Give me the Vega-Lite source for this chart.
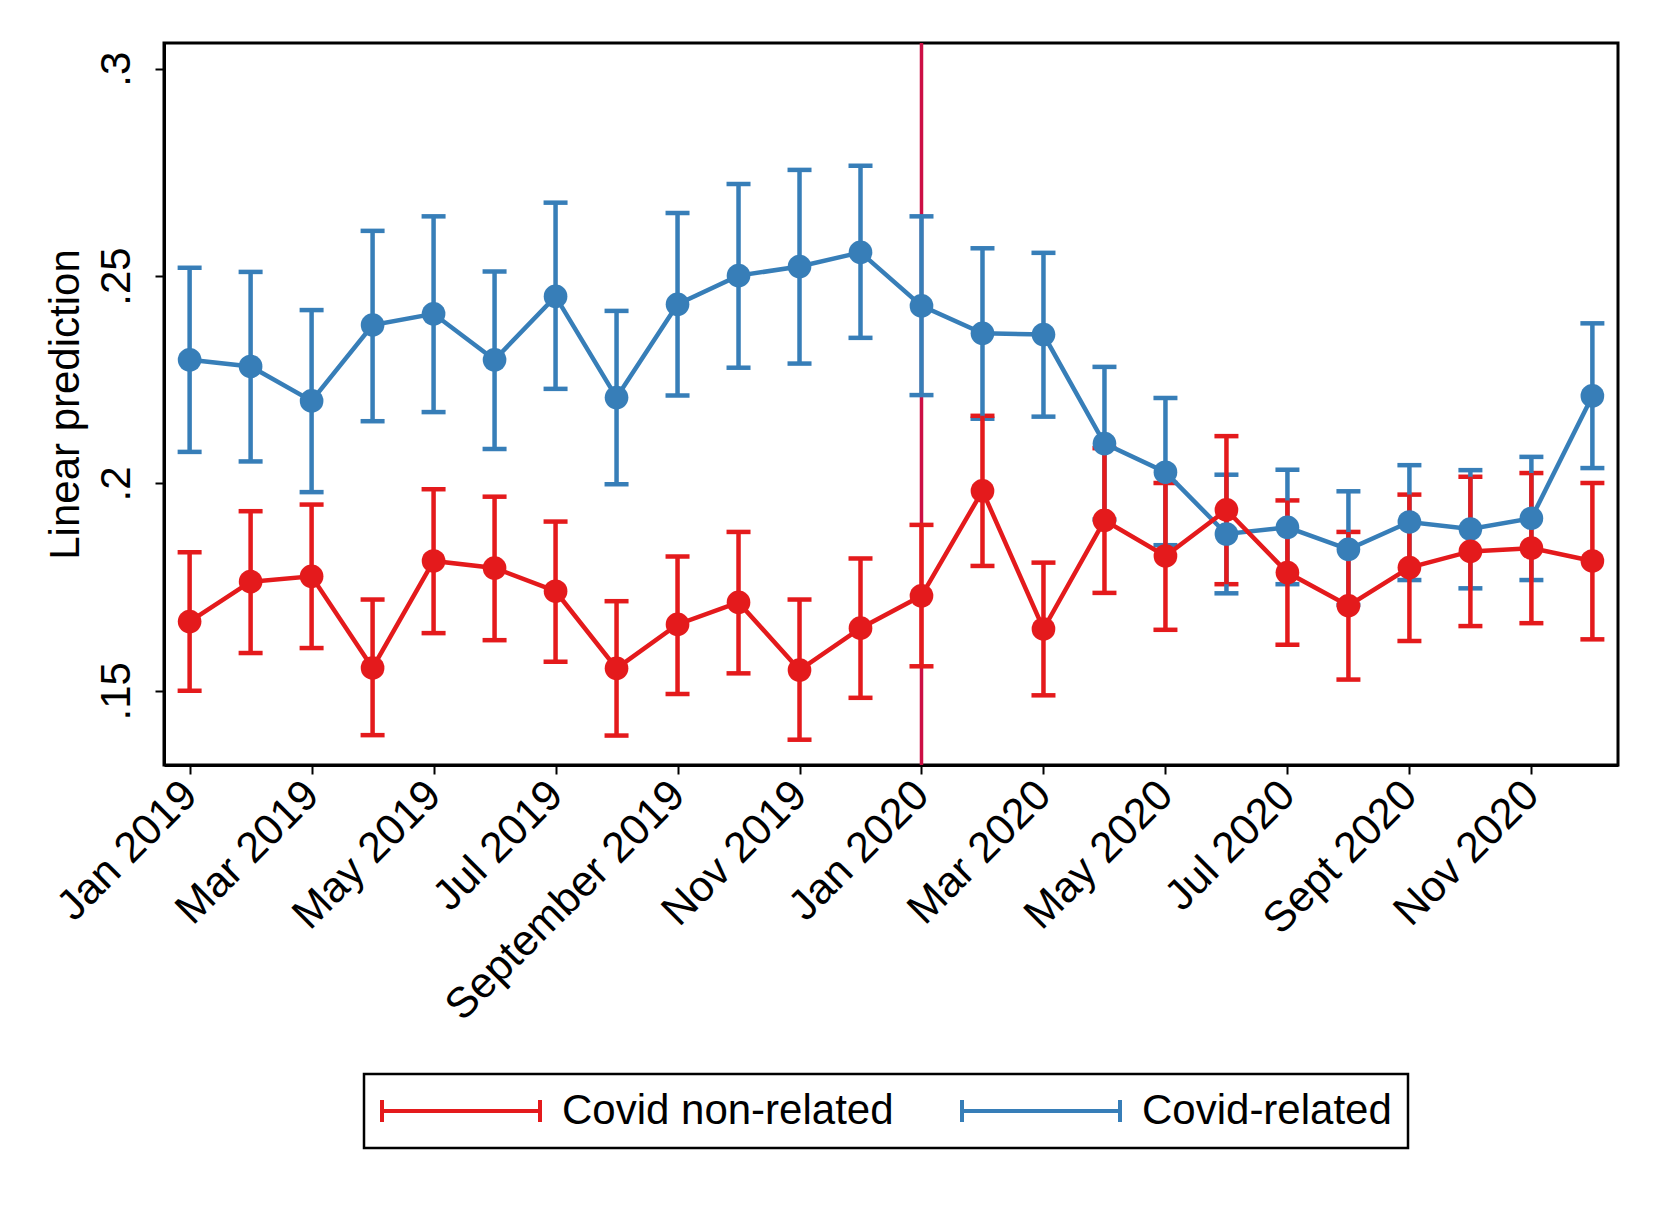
{
  "$schema": "https://vega.github.io/schema/vega-lite/v6.json",
  "width": 1454,
  "height": 722,
  "autosize": {"type": "none"},
  "padding": {"left": 164, "top": 43, "right": 43, "bottom": 443},
  "background": "white",
  "config": {
    "font": "Liberation Sans",
    "view": {"stroke": "black", "strokeWidth": 3},
    "axis": {"labelColor": "black", "titleColor": "black", "tickColor": "black", "domainColor": "black", "grid": false},
    "legend": {"strokeWidth": 2.5}
  },
  "data": {
    "values": [
      {"series": "Covid-related", "month": "Jan 2019", "y": 0.2298, "lo": 0.2076, "hi": 0.2520},
      {"series": "Covid-related", "month": "Feb 2019", "y": 0.2282, "lo": 0.2053, "hi": 0.2510},
      {"series": "Covid-related", "month": "Mar 2019", "y": 0.2199, "lo": 0.1979, "hi": 0.2418},
      {"series": "Covid-related", "month": "Apr 2019", "y": 0.2382, "lo": 0.2150, "hi": 0.2609},
      {"series": "Covid-related", "month": "May 2019", "y": 0.2409, "lo": 0.2172, "hi": 0.2644},
      {"series": "Covid-related", "month": "Jun 2019", "y": 0.2298, "lo": 0.2083, "hi": 0.2511},
      {"series": "Covid-related", "month": "Jul 2019", "y": 0.2451, "lo": 0.2228, "hi": 0.2677},
      {"series": "Covid-related", "month": "Aug 2019", "y": 0.2207, "lo": 0.1998, "hi": 0.2416},
      {"series": "Covid-related", "month": "September 2019", "y": 0.2432, "lo": 0.2212, "hi": 0.2652},
      {"series": "Covid-related", "month": "Oct 2019", "y": 0.2501, "lo": 0.2279, "hi": 0.2722},
      {"series": "Covid-related", "month": "Nov 2019", "y": 0.2523, "lo": 0.2289, "hi": 0.2756},
      {"series": "Covid-related", "month": "Dec 2019", "y": 0.2557, "lo": 0.2351, "hi": 0.2766},
      {"series": "Covid-related", "month": "Jan 2020", "y": 0.2428, "lo": 0.2213, "hi": 0.2644},
      {"series": "Covid-related", "month": "Feb 2020", "y": 0.2362, "lo": 0.2156, "hi": 0.2567},
      {"series": "Covid-related", "month": "Mar 2020", "y": 0.2359, "lo": 0.2161, "hi": 0.2556},
      {"series": "Covid-related", "month": "Apr 2020", "y": 0.2096, "lo": 0.1913, "hi": 0.2281},
      {"series": "Covid-related", "month": "May 2020", "y": 0.2027, "lo": 0.1851, "hi": 0.2206},
      {"series": "Covid-related", "month": "Jun 2020", "y": 0.1878, "lo": 0.1735, "hi": 0.2021},
      {"series": "Covid-related", "month": "Jul 2020", "y": 0.1894, "lo": 0.1757, "hi": 0.2033},
      {"series": "Covid-related", "month": "Aug 2020", "y": 0.1841, "lo": 0.1707, "hi": 0.1981},
      {"series": "Covid-related", "month": "Sept 2020", "y": 0.1907, "lo": 0.1767, "hi": 0.2044},
      {"series": "Covid-related", "month": "Oct 2020", "y": 0.1890, "lo": 0.1747, "hi": 0.2032},
      {"series": "Covid-related", "month": "Nov 2020", "y": 0.1916, "lo": 0.1767, "hi": 0.2064},
      {"series": "Covid-related", "month": "Dec 2020", "y": 0.2211, "lo": 0.2037, "hi": 0.2386},
      {"series": "Covid non-related", "month": "Jan 2019", "y": 0.1667, "lo": 0.1500, "hi": 0.1834},
      {"series": "Covid non-related", "month": "Feb 2019", "y": 0.1763, "lo": 0.1591, "hi": 0.1933},
      {"series": "Covid non-related", "month": "Mar 2019", "y": 0.1776, "lo": 0.1603, "hi": 0.1949},
      {"series": "Covid non-related", "month": "Apr 2019", "y": 0.1555, "lo": 0.1393, "hi": 0.1720},
      {"series": "Covid non-related", "month": "May 2019", "y": 0.1813, "lo": 0.1639, "hi": 0.1986},
      {"series": "Covid non-related", "month": "Jun 2019", "y": 0.1796, "lo": 0.1622, "hi": 0.1968},
      {"series": "Covid non-related", "month": "Jul 2019", "y": 0.1740, "lo": 0.1570, "hi": 0.1908},
      {"series": "Covid non-related", "month": "Aug 2019", "y": 0.1554, "lo": 0.1392, "hi": 0.1716},
      {"series": "Covid non-related", "month": "September 2019", "y": 0.1660, "lo": 0.1492, "hi": 0.1824},
      {"series": "Covid non-related", "month": "Oct 2019", "y": 0.1713, "lo": 0.1542, "hi": 0.1883},
      {"series": "Covid non-related", "month": "Nov 2019", "y": 0.1550, "lo": 0.1382, "hi": 0.1720},
      {"series": "Covid non-related", "month": "Dec 2019", "y": 0.1651, "lo": 0.1483, "hi": 0.1819},
      {"series": "Covid non-related", "month": "Jan 2020", "y": 0.1729, "lo": 0.1559, "hi": 0.1900},
      {"series": "Covid non-related", "month": "Feb 2020", "y": 0.1982, "lo": 0.1801, "hi": 0.2163},
      {"series": "Covid non-related", "month": "Mar 2020", "y": 0.1649, "lo": 0.1489, "hi": 0.1809},
      {"series": "Covid non-related", "month": "Apr 2020", "y": 0.1911, "lo": 0.1736, "hi": 0.2085},
      {"series": "Covid non-related", "month": "May 2020", "y": 0.1825, "lo": 0.1647, "hi": 0.2001},
      {"series": "Covid non-related", "month": "Jun 2020", "y": 0.1936, "lo": 0.1757, "hi": 0.2114},
      {"series": "Covid non-related", "month": "Jul 2020", "y": 0.1785, "lo": 0.1611, "hi": 0.1959},
      {"series": "Covid non-related", "month": "Aug 2020", "y": 0.1705, "lo": 0.1527, "hi": 0.1883},
      {"series": "Covid non-related", "month": "Sept 2020", "y": 0.1797, "lo": 0.1620, "hi": 0.1973},
      {"series": "Covid non-related", "month": "Oct 2020", "y": 0.1836, "lo": 0.1656, "hi": 0.2016},
      {"series": "Covid non-related", "month": "Nov 2020", "y": 0.1844, "lo": 0.1663, "hi": 0.2025},
      {"series": "Covid non-related", "month": "Dec 2020", "y": 0.1813, "lo": 0.1624, "hi": 0.2001}
    ]
  },
  "encoding": {
    "x": {
      "field": "month",
      "type": "nominal",
      "scale": {
        "type": "point",
        "padding": 0.42,
        "domain": ["Jan 2019", "Feb 2019", "Mar 2019", "Apr 2019", "May 2019", "Jun 2019", "Jul 2019", "Aug 2019", "September 2019", "Oct 2019", "Nov 2019", "Dec 2019", "Jan 2020", "Feb 2020", "Mar 2020", "Apr 2020", "May 2020", "Jun 2020", "Jul 2020", "Aug 2020", "Sept 2020", "Oct 2020", "Nov 2020", "Dec 2020"]
      },
      "axis": {
        "title": null,
        "values": ["Jan 2019", "Mar 2019", "May 2019", "Jul 2019", "September 2019", "Nov 2019", "Jan 2020", "Mar 2020", "May 2020", "Jul 2020", "Sept 2020", "Nov 2020"],
        "labelAngle": -45,
        "labelAlign": "right",
        "labelBaseline": "middle",
        "labelFontSize": 43,
        "labelLimit": 0,
        "labelPadding": 14,
        "tickSize": 9,
        "tickWidth": 2,
        "domainWidth": 3
      }
    }
  },
  "layer": [
    {
      "data": {"values": [{"month": "Jan 2020"}]},
      "mark": {"type": "rule", "color": "#cc0f44", "strokeWidth": 3.5},
      "encoding": {"x": {"field": "month", "type": "nominal"}}
    },
    {
      "mark": {"type": "errorbar", "ticks": {"opacity": 1}, "rule": {"opacity": 1}, "opacity": 1, "thickness": 4.5, "size": 24},
      "encoding": {
        "y": {
          "field": "lo",
          "type": "quantitative",
          "title": "Linear prediction",
          "scale": {"domain": [0.1321, 0.3062], "nice": false, "zero": false}
        },
        "y2": {"field": "hi"},
        "color": {
          "field": "series",
          "type": "nominal",
          "scale": {"domain": ["Covid non-related", "Covid-related"], "range": ["#e41a1c", "#377eb8"]}
        }
      }
    },
    {
      "mark": {"type": "line", "strokeWidth": 4.5, "point": {"filled": true, "size": 560, "opacity": 1}},
      "encoding": {
        "y": {
          "field": "y",
          "type": "quantitative",
          "title": "Linear prediction",
          "scale": {"domain": [0.1321, 0.3062], "nice": false, "zero": false},
          "axis": {
            "values": [0.15, 0.2, 0.25, 0.3],
            "labelExpr": "replace(format(datum.value, '.2~f'), '0.', '.')",
            "labelAngle": 270,
            "labelAlign": "center",
            "labelBaseline": "alphabetic",
            "labelFontSize": 42,
            "labelPadding": 26,
            "tickSize": 9,
            "tickWidth": 2,
            "domainWidth": 3,
            "titleFontSize": 42,
            "titleFontWeight": "normal",
            "titlePadding": 8
          }
        },
        "color": {
          "field": "series",
          "type": "nominal",
          "scale": {"domain": ["Covid non-related", "Covid-related"], "range": ["#e41a1c", "#377eb8"]},
          "legend": {
            "orient": "none",
            "legendX": 200,
            "legendY": 1031,
            "direction": "horizontal",
            "columns": 2,
            "title": null,
            "symbolType": "M-1,0H1M-1,-0.14V0.14M1,-0.14V0.14",
            "symbolSize": 24964,
            "symbolStrokeWidth": 4,
            "symbolOpacity": 1,
            "labelFontSize": 42,
            "labelColor": "black",
            "labelLimit": 0,
            "labelOffset": 20,
            "columnPadding": 66,
            "padding": 16,
            "clipHeight": 42,
            "strokeColor": "black"
          }
        }
      }
    }
  ]
}
